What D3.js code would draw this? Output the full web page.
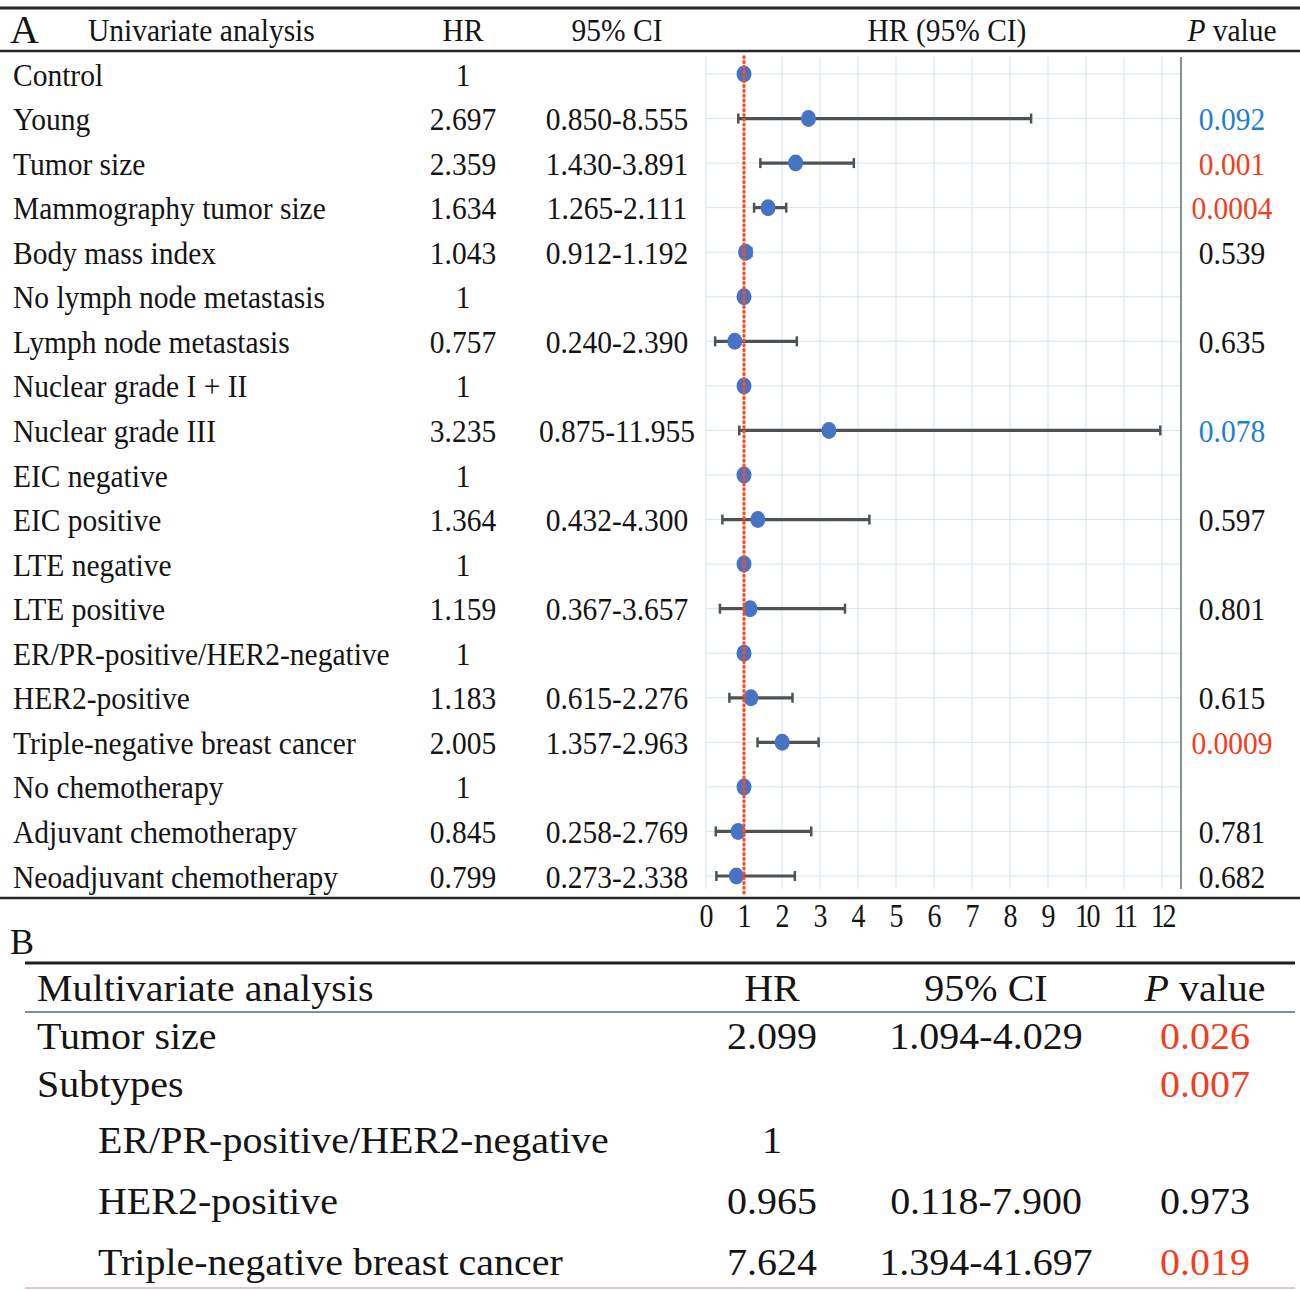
<!DOCTYPE html>
<html><head><meta charset="utf-8">
<script src="https://cdn.jsdelivr.net/npm/d3@7"></script>
<style>body{margin:0;background:#fff}svg{display:block}</style>
</head><body>
<script>
// ---------- Data ----------
const labelsA = ["Control","Young","Tumor size","Mammography tumor size","Body mass index",
 "No lymph node metastasis","Lymph node metastasis","Nuclear grade I + II","Nuclear grade III",
 "EIC negative","EIC positive","LTE negative","LTE positive","ER/PR-positive/HER2-negative",
 "HER2-positive","Triple-negative breast cancer","No chemotherapy","Adjuvant chemotherapy",
 "Neoadjuvant chemotherapy"];
const hrA = [1,2.697,2.359,1.634,1.043,1,0.757,1,3.235,1,1.364,1,1.159,1,1.183,2.005,1,0.845,0.799];
const lowA = [null,0.850,1.430,1.265,0.912,null,0.240,null,0.875,null,0.432,null,0.367,null,0.615,1.357,null,0.258,0.273];
const highA = [null,8.555,3.891,2.111,1.192,null,2.390,null,11.955,null,4.300,null,3.657,null,2.276,2.963,null,2.769,2.338];
const pA = ["","0.092","0.001","0.0004","0.539","","0.635","","0.078","","0.597","","0.801","","0.615","0.0009","","0.781","0.682"];
const xTicks = [0,1,2,3,4,5,6,7,8,9,10,11,12];

const labelsB = ["Tumor size","Subtypes","ER/PR-positive/HER2-negative","HER2-positive","Triple-negative breast cancer"];
const indentB = [0,0,1,1,1];
const hrB = [2.099,null,1,0.965,7.624];
const lowB = [1.094,null,null,0.118,1.394];
const highB = [4.029,null,null,7.900,41.697];
const pB = ["0.026","0.007","","0.973","0.019"];

// ---------- Setup ----------
const W = 1300, H = 1290;
const svg = d3.select("body").append("svg").attr("width", W).attr("height", H);
const FONT = "'Liberation Serif','Times New Roman',serif";
const RED = "#f23d22", BLUE = "#1f7fcf", INK = "#141414";
const pColor = p => { if (p === "") return INK; const v = +p; return v < 0.05 ? RED : (v < 0.1 ? BLUE : INK); };
const fmt3 = d3.format(".3f");
const hrStr = v => v === 1 ? "1" : fmt3(v);

function txt(g, x, y, s, size, sy, anchor, color, italicFirst) {
  const t = g.append("text")
    .attr("transform", `translate(${x},${y}) scale(1,${sy})`)
    .attr("font-family", FONT).attr("font-size", size)
    .attr("text-anchor", anchor || "start").attr("fill", color || INK);
  if (italicFirst) {
    t.append("tspan").attr("font-style", "italic").text(italicFirst);
    t.append("tspan").text(s);
  } else t.text(s);
  return t;
}
function hline(y, x1, x2, w, c) {
  svg.append("line").attr("x1", x1).attr("x2", x2).attr("y1", y).attr("y2", y)
    .attr("stroke", c).attr("stroke-width", w);
}

// ---------- Panel A ----------
const gA = svg.append("g");
const FA = 29.5, SYA = 1.07;
const x = d3.scaleLinear().domain([0, 12.5]).range([706, 1181]);
const y = d3.scalePoint().domain(d3.range(labelsA.length)).range([75, 877]);
const plotTop = 57, plotBot = 889;

hline(8, 0, 1300, 3, "#262626");
hline(51, 0, 1300, 2.5, "#262626");
hline(898, 0, 1300, 2.5, "#262626");

// header
txt(gA, 10, 43, "A", 40, 1.0, "start");
txt(gA, 88, 41, "Univariate analysis", FA, SYA);
txt(gA, 463, 41, "HR", FA, SYA, "middle");
txt(gA, 617, 41, "95% CI", FA, SYA, "middle");
txt(gA, 947, 41, "HR (95% CI)", FA, SYA, "middle");
txt(gA, 1232, 41, " value", FA, SYA, "middle", INK, "P");

// grid
const grid = gA.append("g");
grid.selectAll(".vg").data(xTicks).join("line")
  .attr("x1", d => x(d)).attr("x2", d => x(d)).attr("y1", plotTop).attr("y2", plotBot)
  .attr("stroke", "#d6e5ee").attr("stroke-width", 1);
grid.selectAll(".hg").data(labelsA.map((d, i) => i)).join("line")
  .attr("x1", x(0)).attr("x2", x(12.5)).attr("y1", i => y(i) - 1).attr("y2", i => y(i) - 1)
  .attr("stroke", "#d6e5ee").attr("stroke-width", 1);
gA.append("line").attr("x1", x(12.5)).attr("x2", x(12.5)).attr("y1", plotTop).attr("y2", plotBot)
  .attr("stroke", "#5e6d6d").attr("stroke-width", 1.5);

// rows text
labelsA.forEach((lab, i) => {
  const b = y(i) + 10.5;
  txt(gA, 13, b, lab, FA, SYA);
  txt(gA, 463, b, hrStr(hrA[i]), FA, SYA, "middle");
  if (lowA[i] !== null) txt(gA, 617, b, fmt3(lowA[i]) + "-" + fmt3(highA[i]), FA, SYA, "middle");
  if (pA[i] !== "") txt(gA, 1232, b, pA[i], FA, SYA, "middle", pColor(pA[i]));
});

// error bars
const eb = gA.append("g").attr("stroke", "#4d5354").attr("stroke-width", 3.2);
const withCI = labelsA.map((d, i) => i).filter(i => lowA[i] !== null);
eb.selectAll(".bar").data(withCI).join("line")
  .attr("x1", i => x(lowA[i])).attr("x2", i => x(highA[i]))
  .attr("y1", i => y(i) - 1).attr("y2", i => y(i) - 1);
eb.selectAll(".capL").data(withCI).join("line")
  .attr("stroke-width", 2.5)
  .attr("x1", i => x(lowA[i])).attr("x2", i => x(lowA[i]))
  .attr("y1", i => y(i) - 6).attr("y2", i => y(i) + 4);
eb.selectAll(".capR").data(withCI).join("line")
  .attr("stroke-width", 2.5)
  .attr("x1", i => x(highA[i])).attr("x2", i => x(highA[i]))
  .attr("y1", i => y(i) - 6).attr("y2", i => y(i) + 4);

// markers
gA.append("g").selectAll("ellipse").data(labelsA.map((d, i) => i)).join("ellipse")
  .attr("cx", i => x(hrA[i])).attr("cy", i => y(i) - 1)
  .attr("rx", 7.5).attr("ry", 8.5).attr("fill", "#4673c4");

// reference line at HR = 1
gA.append("line").attr("x1", x(1)).attr("x2", x(1)).attr("y1", plotTop).attr("y2", 894)
  .attr("stroke", "#ff4a26").attr("stroke-width", 3.4).attr("stroke-linecap", "round")
  .attr("stroke-dasharray", "0.6,4.2");

// axis
const ax = gA.append("g").call(d3.axisBottom(x).tickValues(xTicks).tickSize(0).tickFormat(d3.format("d")));
ax.select(".domain").remove();
ax.selectAll("text")
  .attr("y", null).attr("dy", null)
  .attr("transform", "translate(0,927) scale(1,1.2)")
  .attr("font-family", FONT).attr("font-size", 28).attr("fill", INK)
  .attr("letter-spacing", d => d >= 10 ? -2.5 : 0);

// ---------- Panel B ----------
const gB = svg.append("g");
const FB = 40, SYB = 0.93;
txt(gB, 10, 954, "B", 36, 1.0);
hline(963, 25, 1295, 3, "#1e1e1e");
hline(1012, 25, 1295, 1.6, "#4d6d7a");
hline(1288, 25, 1295, 2, "#dccaca");

txt(gB, 37, 1001, "Multivariate analysis", FB, SYB);
txt(gB, 772, 1001, "HR", FB, SYB, "middle");
txt(gB, 986, 1001, "95% CI", FB, SYB, "middle");
txt(gB, 1205, 1001, " value", FB, SYB, "middle", INK, "P");

const yB = [1049, 1097, 1153, 1214, 1275];
labelsB.forEach((lab, i) => {
  const b = yB[i];
  txt(gB, indentB[i] ? 98 : 37, b, lab, FB, SYB);
  if (hrB[i] !== null) txt(gB, 772, b, hrStr(hrB[i]), FB, SYB, "middle");
  if (lowB[i] !== null) txt(gB, 986, b, fmt3(lowB[i]) + "-" + fmt3(highB[i]), FB, SYB, "middle");
  if (pB[i] !== "") txt(gB, 1205, b, pB[i], FB, SYB, "middle", pColor(pB[i]));
});
</script>
</body></html>
